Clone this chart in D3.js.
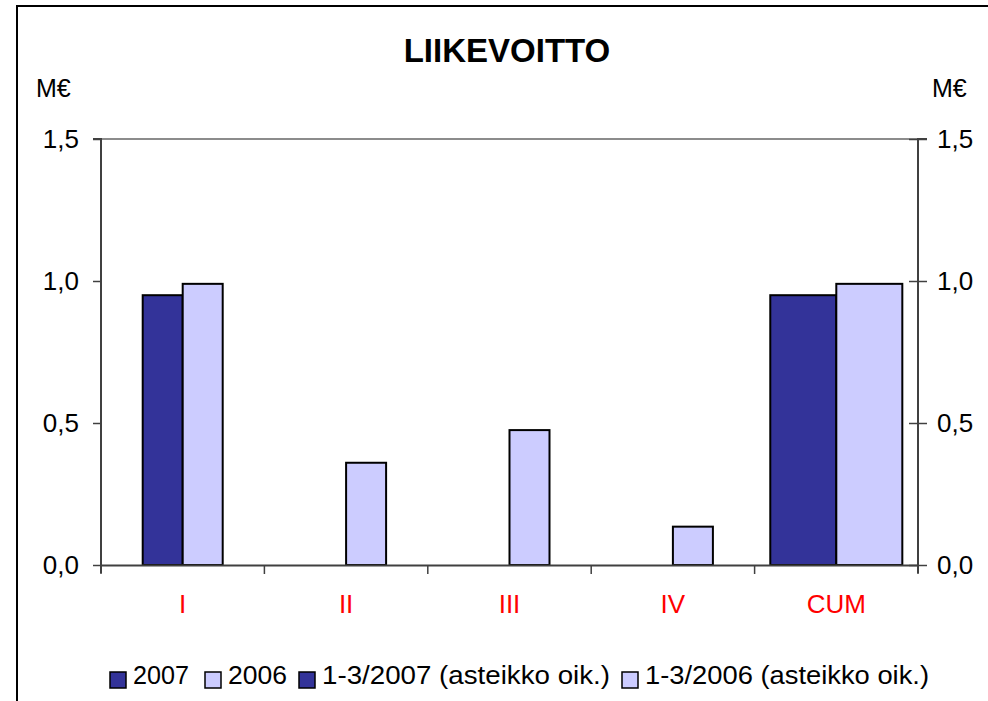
<!DOCTYPE html>
<html lang="fi">
<head>
  <meta charset="UTF-8">
  <title>Liikevoitto</title>
  <script src="https://d3js.org/d3.v7.min.js"></script>
  <style>
    body { margin: 0; background: #fff; }
    svg text { font-family: "Liberation Sans", Arial, sans-serif; }
  </style>
</head>
<body>
  <div id="chart"></div>

  <script>
    // data
    const categories = ["I", "II", "III", "IV", "CUM"];
    const v2007 = [0.95, null, null, null, null];
    const v2006 = [0.99, 0.36, 0.475, 0.135, null];
    const q2007 = [null, null, null, null, 0.95];   // 1-3/2007 (asteikko oik.)
    const q2006 = [null, null, null, null, 0.99];   // 1-3/2006 (asteikko oik.)
    const yTicks = [0, 0.5, 1.0, 1.5];
    const legendNames = ["2007", "2006", "1-3/2007 (asteikko oik.)", "1-3/2006 (asteikko oik.)"];

    const W = 988, H = 701;
    const plot = {left: 101, right: 918, top: 139, bottom: 565};
    const dark = "#333399", light = "#CCCCFF";

    const svg = d3.select("#chart").append("svg")
      .attr("width", W).attr("height", H);

    // chart border (runs off the right and bottom)
    svg.append("rect")
      .attr("x", 17).attr("y", 6)
      .attr("width", 1200).attr("height", 1200)
      .attr("fill", "#fff").attr("stroke", "#000").attr("stroke-width", 2);

    const x = d3.scaleBand().domain(categories).range([plot.left, plot.right]).padding(0);
    const yL = d3.scaleLinear().domain([0, 1.5]).range([plot.bottom, plot.top]);
    const yR = d3.scaleLinear().domain([0, 1.5]).range([plot.bottom, plot.top]);

    // plot area top border
    svg.append("line")
      .attr("x1", plot.left).attr("x2", plot.right)
      .attr("y1", plot.top).attr("y2", plot.top)
      .attr("stroke", "#8c8c8c").attr("stroke-width", 2);

    // bars: primary series narrow, secondary wide
    function drawSeries(values, idx, gap, y, color) {
      const bw = x.bandwidth() / (2 + gap);
      const rows = categories.map((c, i) => ({c, v: values[i]})).filter(d => d.v != null);
      svg.append("g").selectAll("rect")
        .data(rows).enter().append("rect")
        .attr("x", d => x(d.c) + x.bandwidth() / 2 - bw + idx * bw)
        .attr("y", d => y(d.v))
        .attr("width", bw)
        .attr("height", d => y(0) - y(d.v))
        .attr("fill", color)
        .attr("stroke", "#000").attr("stroke-width", 2);
    }
    drawSeries(v2007, 0, 2.085, yL, dark);
    drawSeries(v2006, 1, 2.085, yL, light);
    drawSeries(q2007, 0, 0.475, yR, dark);
    drawSeries(q2006, 1, 0.475, yR, light);

    const fmt = d => d3.format(".1f")(d).replace(".", ",");
    const axisColor = "#404040";

    // left axis
    const gL = svg.append("g")
      .attr("transform", `translate(${plot.left},0)`)
      .call(d3.axisLeft(yL).tickValues(yTicks).tickFormat(fmt).tickSize(8).tickPadding(14));
    // right axis
    const gR = svg.append("g")
      .attr("transform", `translate(${plot.right},0)`)
      .call(d3.axisRight(yR).tickValues(yTicks).tickFormat(fmt).tickSize(9).tickPadding(10));
    gR.selectAll(".tick line").attr("x1", -9);

    // bottom axis with ticks between categories
    const gB = svg.append("g").attr("transform", `translate(0,${plot.bottom})`)
      .call(d3.axisBottom(x).tickSize(0).tickPadding(30));
    gB.selectAll(".tick text").attr("fill", "#ff0000");
    gB.selectAll(".sep")
      .data(d3.range(categories.length + 1)).enter().append("line")
      .attr("x1", i => plot.left + i * x.step())
      .attr("x2", i => plot.left + i * x.step())
      .attr("y1", 0).attr("y2", 9)
      .attr("stroke", axisColor).attr("stroke-width", 1.5);

    [gL, gR, gB].forEach(g => {
      g.selectAll(".domain").attr("stroke", axisColor).attr("stroke-width", 2);
      g.selectAll(".tick line").attr("stroke", axisColor).attr("stroke-width", 1.5);
      g.selectAll("text").style("font-size", "26px").style("font-family", "'Liberation Sans', Arial, sans-serif");
    });
    gL.selectAll(".tick text").attr("fill", "#000");
    gR.selectAll(".tick text").attr("fill", "#000");
    gL.select(".domain").attr("d", `M-8,${plot.top}H0V${plot.bottom + 8}`);
    gR.select(".domain").attr("d", `M9,${plot.top}H0V${plot.bottom + 8}`);

    // title and unit labels
    svg.append("text")
      .attr("x", 507).attr("y", 62)
      .attr("text-anchor", "middle")
      .style("font-size", "33px").style("font-weight", "bold")
      .text("LIIKEVOITTO");
    svg.append("text").attr("x", 36).attr("y", 97).style("font-size", "25px").text("M€");
    svg.append("text").attr("x", 932).attr("y", 97).style("font-size", "25px").text("M€");

    // legend (entry positions follow the original layout)
    const colors = [dark, light, dark, light];
    const legendX = [110, 205, 299, 622];
    const legendEnd = [189, 287, 610, 929];
    const legend = svg.append("g");
    legendNames.forEach((name, i) => {
      legend.append("rect")
        .attr("x", legendX[i]).attr("y", 672).attr("width", 16).attr("height", 16)
        .attr("fill", colors[i]).attr("stroke", "#000").attr("stroke-width", 1.5);
      legend.append("text")
        .attr("x", legendX[i] + 23).attr("y", 684)
        .attr("textLength", legendEnd[i] - legendX[i] - 23)
        .attr("lengthAdjust", "spacingAndGlyphs")
        .style("font-size", "26px")
        .text(name);
    });
  </script>
</body>
</html>
